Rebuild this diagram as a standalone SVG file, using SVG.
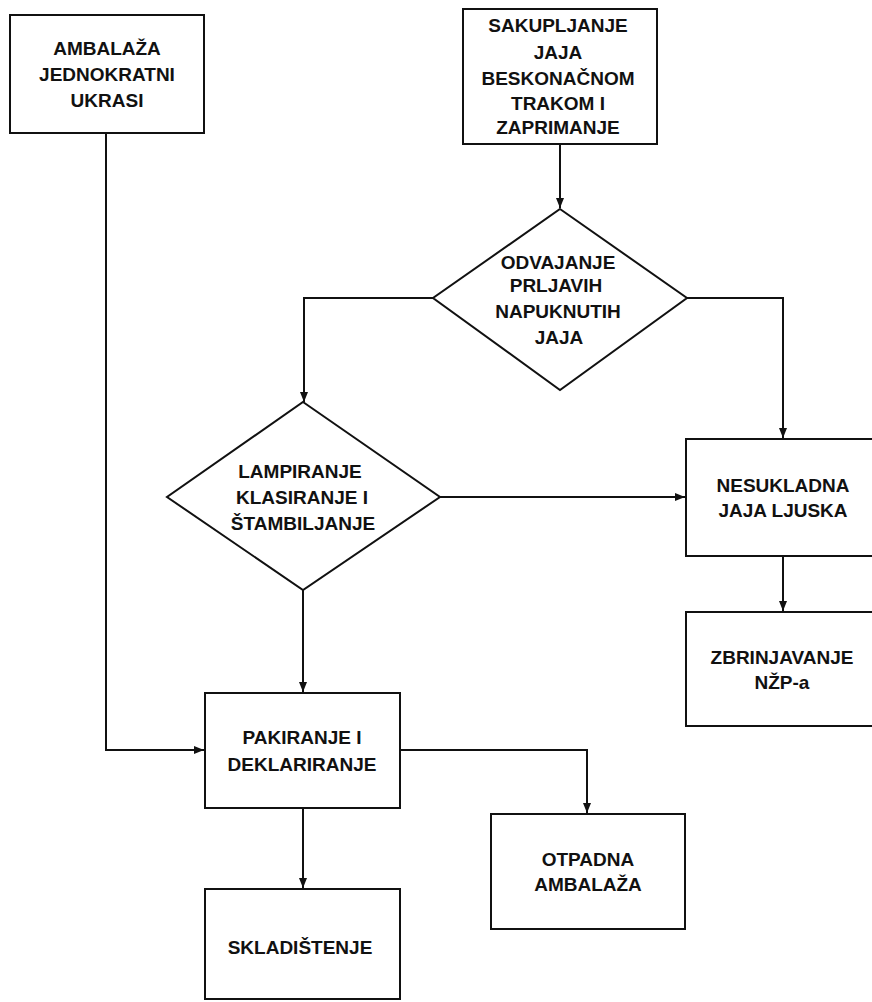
<svg xmlns="http://www.w3.org/2000/svg" width="872" height="1002" viewBox="0 0 872 1002">
<style>
.box{fill:#fff;stroke:#111;stroke-width:2}
.t{font-family:"Liberation Sans",Arial,sans-serif;font-weight:bold;font-size:19px;fill:#111;text-anchor:middle}
.c{fill:none;stroke:#111;stroke-width:2}
</style>
<defs>
<marker id="ah" viewBox="0 0 10 10" refX="10" refY="5" markerWidth="10" markerHeight="10" markerUnits="userSpaceOnUse" orient="auto">
<path d="M0,1 L10,5 L0,9 Z" fill="#111"/>
</marker>
</defs>
<rect width="872" height="1002" fill="#fff"/>
<g id="connectors">
<path class="c" d="M560,144 V208" marker-end="url(#ah)"/>
<path class="c" d="M433,298 H304 V402" marker-end="url(#ah)"/>
<path class="c" d="M687,298 H783 V438" marker-end="url(#ah)"/>
<path class="c" d="M440,497 H685" marker-end="url(#ah)"/>
<path class="c" d="M783,556 V611" marker-end="url(#ah)"/>
<path class="c" d="M106,133 V750 H204" marker-end="url(#ah)"/>
<path class="c" d="M303,590 V692" marker-end="url(#ah)"/>
<path class="c" d="M400,750 H587 V813" marker-end="url(#ah)"/>
<path class="c" d="M303,808 V888" marker-end="url(#ah)"/>
</g>
<g id="ambalaza">
<rect class="box" x="10" y="15" width="194" height="118"/>
<text class="t" x="107" y="55">AMBALAŽA</text>
<text class="t" x="107" y="81">JEDNOKRATNI</text>
<text class="t" x="107" y="107">UKRASI</text>
</g>
<g id="sakupljanje">
<rect class="box" x="463" y="9" width="194" height="135"/>
<text class="t" x="558" y="32">SAKUPLJANJE</text>
<text class="t" x="558" y="59">JAJA</text>
<text class="t" x="558" y="85">BESKONAČNOM</text>
<text class="t" x="558" y="110">TRAKOM I</text>
<text class="t" x="558" y="134">ZAPRIMANJE</text>
</g>
<g id="odvajanje">
<polygon class="box" points="560,209 687,298 560,390 433,298"/>
<text class="t" x="558" y="269">ODVAJANJE</text>
<text class="t" x="556" y="292">PRLJAVIH</text>
<text class="t" x="558" y="318">NAPUKNUTIH</text>
<text class="t" x="559" y="344">JAJA</text>
</g>
<g id="lampiranje">
<polygon class="box" points="303,402 440,497 303,590 167,497"/>
<text class="t" x="300" y="478">LAMPIRANJE</text>
<text class="t" x="302" y="504">KLASIRANJE I</text>
<text class="t" x="303" y="530">ŠTAMBILJANJE</text>
</g>
<g id="nesukladna">
<rect class="box" x="686" y="439" width="190" height="117"/>
<text class="t" x="783" y="492">NESUKLADNA</text>
<text class="t" x="783" y="517">JAJA LJUSKA</text>
</g>
<g id="zbrinjavanje">
<rect class="box" x="686" y="612" width="190" height="114"/>
<text class="t" x="782" y="664">ZBRINJAVANJE</text>
<text class="t" x="782" y="689">NŽP-a</text>
</g>
<g id="pakiranje">
<rect class="box" x="205" y="693" width="195" height="115"/>
<text class="t" x="302" y="744">PAKIRANJE I</text>
<text class="t" x="302" y="771">DEKLARIRANJE</text>
</g>
<g id="otpadna">
<rect class="box" x="491" y="814" width="194" height="115"/>
<text class="t" x="588" y="866">OTPADNA</text>
<text class="t" x="588" y="891">AMBALAŽA</text>
</g>
<g id="skladistenje">
<rect class="box" x="205" y="889" width="195" height="110"/>
<text class="t" x="300" y="954">SKLADIŠTENJE</text>
</g>
</svg>
